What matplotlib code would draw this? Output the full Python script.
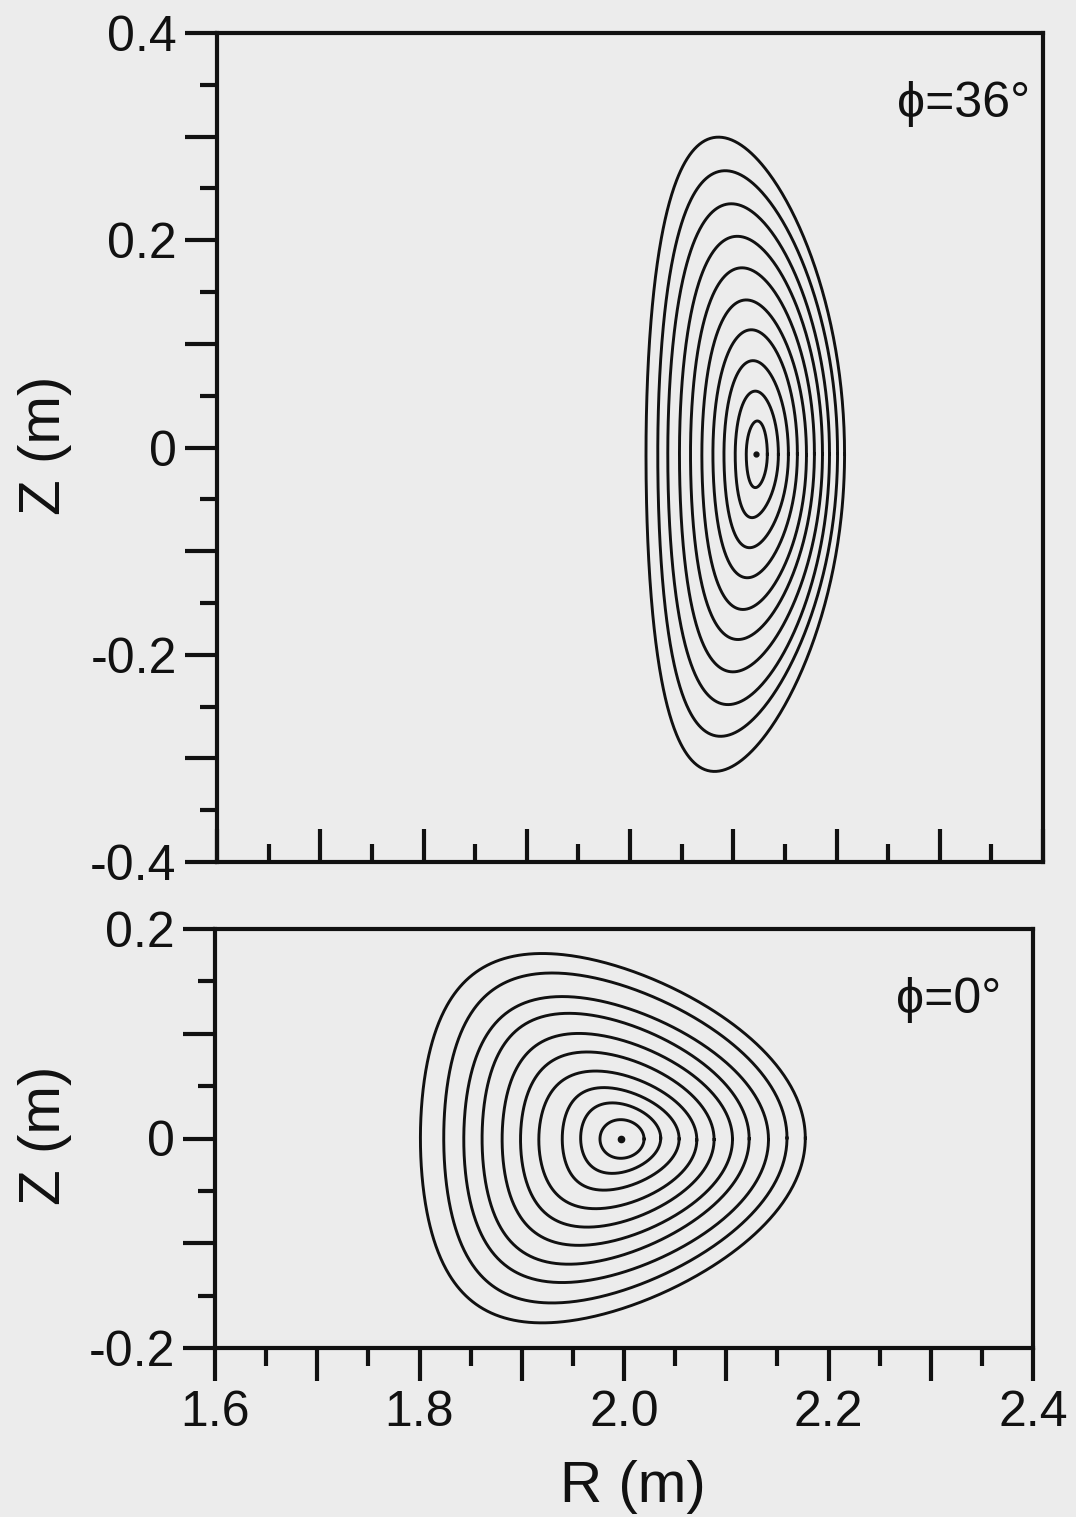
import numpy as np
import matplotlib
matplotlib.use("Agg")
import matplotlib.pyplot as plt
from matplotlib.ticker import FixedLocator, FixedFormatter

plt.rcParams['font.family'] = ['Liberation Sans', 'DejaVu Sans']
plt.rcParams['axes.unicode_minus'] = False

# flux surfaces at phi = 36 deg, outermost first (metres)
r_in_36 = [2.0155, 2.0269, 2.0366, 2.0479, 2.0586, 2.0696, 2.0803, 2.0910, 2.1019, 2.1126]
r_out_36 = [2.2078, 2.2010, 2.1932, 2.1864, 2.1786, 2.1709, 2.1621, 2.1534, 2.1437, 2.1330]
z_top_36 = [0.2995, 0.2671, 0.2352, 0.2038, 0.1734, 0.1424, 0.1136, 0.0838, 0.0544, 0.0256]
z_bot_36 = [-0.3126, -0.2787, -0.2481, -0.2165, -0.1853, -0.1563, -0.1257, -0.0967, -0.0677, -0.0387]
r_top_36 = [2.0857, 2.0922, 2.0981, 2.1039, 2.1084, 2.1126, 2.1175, 2.1191, 2.1214, 2.1233]
r_bot_36 = [2.0819, 2.0877, 2.0949, 2.0997, 2.1046, 2.1094, 2.1136, 2.1158, 2.1182, 2.1214]
axis_36 = (2.1223, -0.0060)

# flux surfaces at phi = 0 deg
r_in_0 = [1.8009, 1.8237, 1.8433, 1.8612, 1.8808, 1.8988, 1.9167, 1.9396, 1.9576, 1.9765]
r_out_0 = [2.1773, 2.1594, 2.1413, 2.1224, 2.1061, 2.0881, 2.0712, 2.0539, 2.0359, 2.0196]
z_top_0 = [0.1766, 0.1580, 0.1355, 0.1195, 0.1003, 0.0826, 0.0644, 0.0486, 0.0340, 0.0180]
z_bot_0 = [-0.1760, -0.1570, -0.1375, -0.1200, -0.1020, -0.0846, -0.0670, -0.0493, -0.0333, -0.0189]
r_top_0 = [1.9200, 1.9298, 1.9396, 1.9461, 1.9559, 1.9641, 1.9723, 1.9804, 1.9885, 1.9968]
axis_0 = (1.9971, 0.0)

x_major = [1.6, 1.7, 1.8, 1.9, 2.0, 2.1, 2.2, 2.3, 2.4]
x_minor = [1.65, 1.75, 1.85, 1.95, 2.05, 2.15, 2.25, 2.35]
x_labels = ['1.6', '', '1.8', '', '2.0', '', '2.2', '', '2.4']
y_major_top = [-0.4, -0.3, -0.2, -0.1, 0.0, 0.1, 0.2, 0.3, 0.4]
y_minor_top = [-0.35, -0.25, -0.15, -0.05, 0.05, 0.15, 0.25, 0.35]
y_labels_top = ['-0.4', '', '-0.2', '', '0', '', '0.2', '', '0.4']
y_major_bot = [-0.2, -0.1, 0.0, 0.1, 0.2]
y_minor_bot = [-0.15, -0.05, 0.05, 0.15]
y_labels_bot = ['-0.2', '', '0', '', '0.2']

bg = '#ececec'
ink = '#111111'


def surface(r_in, r_out, z_top, z_bot, r_top, r_bot, n=600):
    r0 = (r_in + r_out) / 2
    a = (r_out - r_in) / 2
    z0 = (z_top + z_bot) / 2
    h = (z_top - z_bot) / 2
    th = np.linspace(0, 2 * np.pi, n)
    d = np.where(np.sin(th) >= 0, (r0 - r_top) / a, (r0 - r_bot) / a)
    R = r0 + a * np.cos(th + np.arcsin(np.clip(d, -0.95, 0.95)) * np.sin(th))
    Z = z0 + h * np.sin(th)
    return R, Z


fig = plt.figure(figsize=(10.76, 15.17), dpi=100, facecolor=bg)
ax1 = fig.add_axes([217 / 1076, 1 - 862 / 1517, 826 / 1076, 829 / 1517])
ax2 = fig.add_axes([215 / 1076, 1 - 1348 / 1517, 818 / 1076, 419 / 1517])

for i in range(len(r_in_36)):
    R, Z = surface(r_in_36[i], r_out_36[i], z_top_36[i], z_bot_36[i], r_top_36[i], r_bot_36[i])
    ax1.plot(R, Z, color=ink, lw=2.1)
ax1.plot(*axis_36, 'o', color=ink, ms=3.5)

for i in range(len(r_in_0)):
    R, Z = surface(r_in_0[i], r_out_0[i], z_top_0[i], z_bot_0[i], r_top_0[i], r_top_0[i])
    ax2.plot(R, Z, color=ink, lw=2.1)
ax2.plot(*axis_0, 'o', color=ink, ms=4.5)

ax1.text(2.388, 0.319, 'ϕ=36°', ha='right', va='baseline', fontsize=36, color=ink)
ax2.text(2.369, 0.120, 'ϕ=0°', ha='right', va='baseline', fontsize=36, color=ink)

for ax, ymaj, ymin, ylab, ylim in [(ax1, y_major_top, y_minor_top, y_labels_top, (-0.4, 0.4)),
                                    (ax2, y_major_bot, y_minor_bot, y_labels_bot, (-0.2, 0.2))]:
    ax.set_facecolor(bg)
    ax.set_xlim(1.6, 2.4)
    ax.set_ylim(*ylim)
    ax.xaxis.set_major_locator(FixedLocator(x_major))
    ax.xaxis.set_minor_locator(FixedLocator(x_minor))
    ax.yaxis.set_major_locator(FixedLocator(ymaj))
    ax.yaxis.set_minor_locator(FixedLocator(ymin))
    ax.yaxis.set_major_formatter(FixedFormatter(ylab))
    for s in ax.spines.values():
        s.set_linewidth(3.0)
        s.set_color(ink)
    ax.tick_params(axis='y', which='major', direction='out', length=23, width=3.0,
                   labelsize=36, pad=6, colors=ink)
    ax.tick_params(axis='y', which='minor', direction='out', length=12, width=3.0, colors=ink)

ax1.tick_params(axis='x', which='major', direction='in', length=24, width=3.0, labelbottom=False, colors=ink)
ax1.tick_params(axis='x', which='minor', direction='in', length=13, width=3.0, colors=ink)
ax2.xaxis.set_major_formatter(FixedFormatter(x_labels))
ax2.tick_params(axis='x', which='major', direction='out', length=24, width=3.0,
                labelsize=36, pad=6, colors=ink)
ax2.tick_params(axis='x', which='minor', direction='out', length=13, width=3.0, colors=ink)

fig.text(60 / 1076, 1 - 445 / 1517, 'Z (m)', rotation=90, rotation_mode='anchor',
         ha='center', va='baseline', fontsize=42, color=ink)
fig.text(60 / 1076, 1 - 1135 / 1517, 'Z (m)', rotation=90, rotation_mode='anchor',
         ha='center', va='baseline', fontsize=42, color=ink)
fig.text(633 / 1076, 1 - 1502 / 1517, 'R (m)', ha='center', va='baseline', fontsize=42, color=ink)

fig.savefig('out.png', dpi=100, facecolor=bg)
